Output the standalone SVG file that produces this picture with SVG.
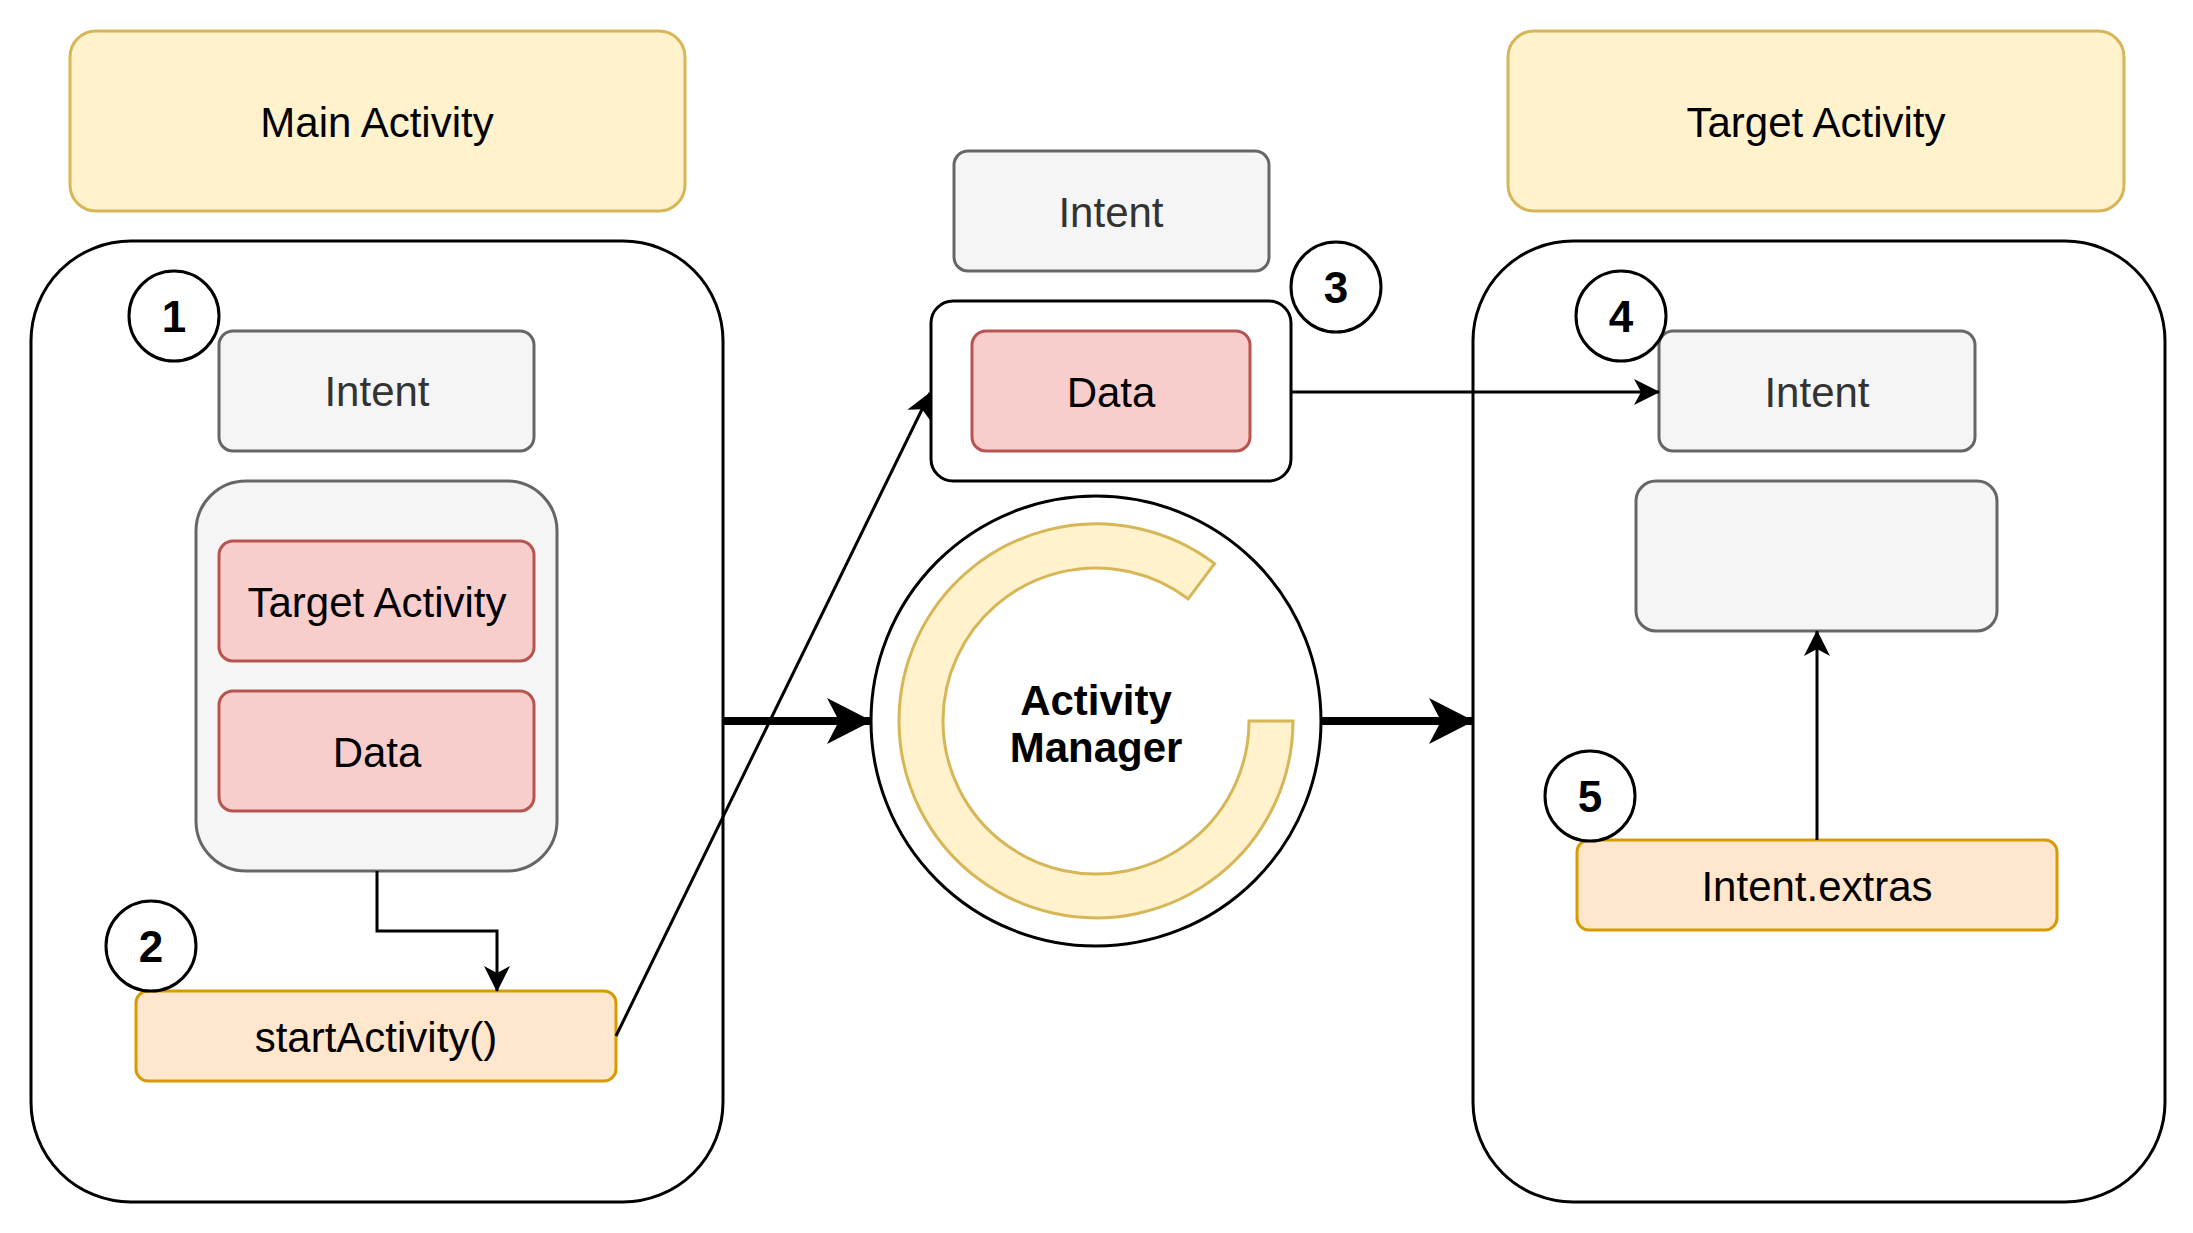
<svg xmlns="http://www.w3.org/2000/svg" width="2193" height="1233" viewBox="0 0 2193 1233">
<style>
text{font-family:"Liberation Sans",Arial,Helvetica,sans-serif;font-size:42px;text-anchor:middle;fill:#000}
.yel{fill:#fff2cc;stroke:#d6b656;stroke-width:3}
.gray{fill:#f5f5f5;stroke:#666666;stroke-width:3}
.red{fill:#f8cecc;stroke:#b85450;stroke-width:3}
.org{fill:#ffe6cc;stroke:#d79b00;stroke-width:3}
.cont{fill:#fff;stroke:#000;stroke-width:3}
.num{font-weight:bold;font-size:44px}
.gt{fill:#333333}
.thin{fill:none;stroke:#000;stroke-width:3}
.thick{fill:none;stroke:#000;stroke-width:8}
</style>
<defs>
<marker id="a" viewBox="0 0 26 26" refX="25" refY="13" markerWidth="26" markerHeight="26" markerUnits="userSpaceOnUse" orient="auto">
<path d="M0,0 L26,13 L0,26 L7,13 Z" fill="#000"/>
</marker>
<marker id="b" viewBox="0 0 45 46" refX="44" refY="23" markerWidth="45" markerHeight="46" markerUnits="userSpaceOnUse" orient="auto">
<path d="M0,0 L45,23 L0,46 L12,23 Z" fill="#000"/>
</marker>
</defs>
<rect width="2193" height="1233" fill="#fff"/>
<g id="main-activity-header"><rect class="yel" x="70" y="31" width="615" height="180" rx="26"/><text x="377" y="137">Main Activity</text></g>
<g id="target-activity-header"><rect class="yel" x="1508" y="31" width="616" height="180" rx="26"/><text x="1816" y="137">Target Activity</text></g>
<g id="main-container"><rect class="cont" x="31" y="241" width="692" height="961" rx="100"/></g>
<g id="target-container"><rect class="cont" x="1473" y="241" width="692" height="961" rx="100"/></g>
<g id="intent-left"><rect class="gray" x="219" y="331" width="315" height="120" rx="14"/><text class="gt" x="377" y="406">Intent</text></g>
<g id="bundle-left"><rect class="gray" x="196" y="481" width="361" height="390" rx="50"/></g>
<g id="target-activity-red"><rect class="red" x="219" y="541" width="315" height="120" rx="14"/><text x="377" y="617">Target Activity</text></g>
<g id="data-left"><rect class="red" x="219" y="691" width="315" height="120" rx="14"/><text x="377" y="767">Data</text></g>
<g id="start-activity"><rect class="org" x="136" y="991" width="480" height="90" rx="12"/><text x="376" y="1052">startActivity()</text></g>
<g id="intent-mid"><rect class="gray" x="954" y="151" width="315" height="120" rx="14"/><text class="gt" x="1111" y="227">Intent</text></g>
<g id="data-mid-container"><rect class="cont" x="931" y="301" width="360" height="180" rx="22"/></g>
<g id="data-mid"><rect class="red" x="972" y="331" width="278" height="120" rx="14"/><text x="1111" y="407">Data</text></g>
<g id="intent-right"><rect class="gray" x="1659" y="331" width="316" height="120" rx="14"/><text class="gt" x="1817" y="407">Intent</text></g>
<g id="empty-right"><rect class="gray" x="1636" y="481" width="361" height="150" rx="20"/></g>
<g id="intent-extras"><rect class="org" x="1577" y="840" width="480" height="90" rx="12"/><text x="1817" y="901">Intent.extras</text></g>
<g id="activity-manager">
<circle cx="1096" cy="721" r="225" fill="#fff" stroke="#000" stroke-width="3"/>
<path class="yel" d="M1293,721 A197,197 0 1 1 1214.6,563.6 L1188.1,598.8 A153,153 0 1 0 1249,721 Z"/>
<text x="1096" y="715" font-weight="bold">Activity</text>
<text x="1096" y="762" font-weight="bold">Manager</text>
</g>
<g id="connectors">
<path class="thin" d="M377,871 V931 H497 V991" marker-end="url(#a)"/>
<path class="thin" d="M616,1036 L930,393" marker-end="url(#a)"/>
<path class="thin" d="M1291,392 H1659" marker-end="url(#a)"/>
<path class="thin" d="M1817,840 V631" marker-end="url(#a)"/>
<path class="thick" d="M723,721 H871" marker-end="url(#b)"/>
<path class="thick" d="M1321,721 H1473" marker-end="url(#b)"/>
</g>
<g id="step-1"><circle class="cont" cx="174" cy="316" r="45"/><text class="num" x="174" y="332">1</text></g>
<g id="step-2"><circle class="cont" cx="151" cy="946" r="45"/><text class="num" x="151" y="962">2</text></g>
<g id="step-3"><circle class="cont" cx="1336" cy="287" r="45"/><text class="num" x="1336" y="303">3</text></g>
<g id="step-4"><circle class="cont" cx="1621" cy="316" r="45"/><text class="num" x="1621" y="332">4</text></g>
<g id="step-5"><circle class="cont" cx="1590" cy="796" r="45"/><text class="num" x="1590" y="812">5</text></g>
</svg>
